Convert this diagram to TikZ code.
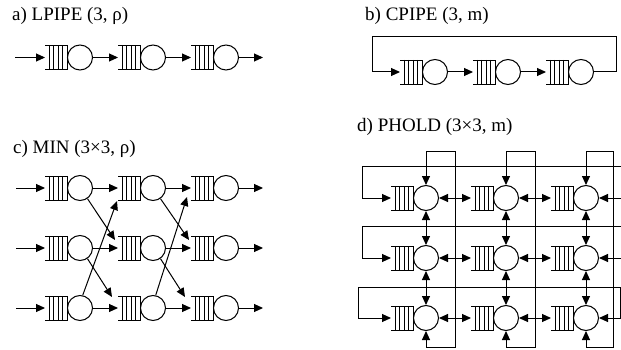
\documentclass[tikz,border=0pt]{standalone}
\usepackage{fontspec}
\setmainfont{Liberation Serif}
\usetikzlibrary{arrows.meta,calc}
\tikzset{
 link/.style={line width=1pt},
 qline/.style={line width=0.8pt},
 qbox/.style={rectangle, minimum width=22pt, minimum height=24pt, inner sep=0pt, outer sep=0pt},
 srv/.style={circle, draw, line width=1pt, minimum size=25pt, inner sep=0pt},
 arr/.style={line width=1pt, -{Triangle[length=9pt,width=8pt]}},
 dbl/.style={line width=1pt, {Triangle[length=9pt,width=8pt]}-{Triangle[length=9pt,width=8pt]}},
 lbl/.style={anchor=west, inner sep=0pt, font=\fontsize{19}{22}\selectfont},
}
\newcommand\station[3]{%
 \node[srv] (c#1) at (#2,#3) {};
 \node[qbox, anchor=east] (q#1) at (c#1.west) {};
 \draw[qline] (q#1.north west) -- (q#1.north east) -- (q#1.south east) -- (q#1.south west);
 \foreach \f in {0.18,0.39,0.6,0.8}{\draw[qline] ($(q#1.north west)!\f!(q#1.north east)$) -- ($(q#1.south west)!\f!(q#1.south east)$);}
}
\begin{document}
\begin{tikzpicture}[x=1pt,y=-1pt]
\useasboundingbox (0,0) rectangle (621,350);
\clip (0,0) rectangle (621,350);

% labels
\node[lbl] (la) at (12,16) {a) LPIPE (3, ρ)};
\node[lbl] (lb) at (365,16) {b) CPIPE (3, m)};
\node[lbl] (lc) at (13,149) {c) MIN (3×3, ρ)};
\node[lbl] (ld) at (357,127) {d) PHOLD (3×3, m)};

% a) LPIPE
\station{a1}{80}{57.5}
\station{a2}{153}{57.5}
\station{a3}{226}{57.5}
\coordinate (ain) at (15,57.5);
\coordinate (aout) at (263,57.5);
\draw[arr] (ain) -- (qa1.west);
\draw[arr] (ca1.east) -- (qa2.west);
\draw[arr] (ca2.east) -- (qa3.west);
\draw[arr] (ca3.east) -- (aout);

% b) CPIPE
\station{b1}{435}{72}
\station{b2}{508}{72}
\station{b3}{581}{72}
\coordinate (bl) at (372,37);
\coordinate (br) at (616,37);
\draw[arr] (cb1.east) -- (qb2.west);
\draw[arr] (cb2.east) -- (qb3.west);
\draw[arr] (cb3.east) -| (br) -- (bl) |- (qb1.west);

% c) MIN
\foreach \r/\y in {1/188,2/248,3/308}{
  \station{m1\r}{80}{\y}
  \station{m2\r}{153}{\y}
  \station{m3\r}{226}{\y}
  \coordinate (min\r) at (16,\y);
  \coordinate (mout\r) at (263,\y);
  \draw[arr] (min\r) -- (qm1\r.west);
  \draw[arr] (cm1\r.east) -- (qm2\r.west);
  \draw[arr] (cm2\r.east) -- (qm3\r.west);
  \draw[arr] (cm3\r.east) -- (mout\r);
}
\draw[arr] (cm11.-55) -- ($(qm22.north west)+(-3,4)$);
\draw[arr] (cm12.-55) -- ($(qm23.north west)+(-6,1)$);
\draw[arr] (cm13.78) -- ($(qm21.south west)+(-1,1)$);
\draw[arr] (cm21.-55) -- ($(qm32.north west)+(-2,4)$);
\draw[arr] (cm22.-55) -- ($(qm33.north west)+(-6,1)$);
\draw[arr] (cm23.78) -- ($(qm31.south west)+(-4,-3)$);

% d) PHOLD
\foreach \r/\y in {1/198,2/258,3/318}{
  \station{p\r1}{426}{\y}
  \station{p\r2}{506}{\y}
  \station{p\r3}{586}{\y}
  \draw[dbl] (cp\r1.east) -- (qp\r2.west);
  \draw[dbl] (cp\r2.east) -- (qp\r3.west);
}
\foreach \c in {1,2,3}{
  \draw[dbl] (cp1\c.south) -- (cp2\c.north);
  \draw[dbl] (cp2\c.south) -- (cp3\c.north);
}
\foreach \c/\vx in {1/455,2/535,3/613}{
  \coordinate (pt\c) at (\vx,152);
  \coordinate (pb\c) at (\vx,347);
  \draw[dbl] (cp1\c.north) |- (pt\c) -- (pb\c) -| (cp3\c.south);
}
\foreach \r/\lx/\ly/\rx in {1/362/166/623,2/362/226/623,3/358/287/620}{
  \coordinate (pl\r) at (\lx,\ly);
  \coordinate (pr\r) at (\rx,\ly);
  \draw[dbl] (qp\r1.west) -| (pl\r) -- (pr\r) |- (cp\r3.east);
}
\end{tikzpicture}
\end{document}
